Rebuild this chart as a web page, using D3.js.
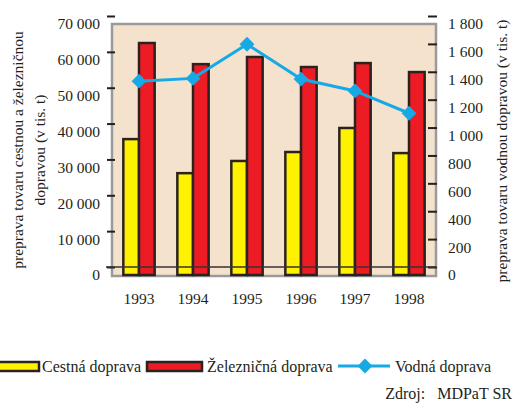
<!DOCTYPE html>
<html>
<head>
<meta charset="utf-8">
<script src="https://cdn.jsdelivr.net/npm/d3@7"></script>
<style>
  body { margin: 0; background: #fff; }
  text { font-family: "Times New Roman", "Liberation Serif", serif; fill: #231f20; }
</style>
</head>
<body>
<div id="chart"></div>
<script>
const years = ["1993", "1994", "1995", "1996", "1997", "1998"];
const roadValues = [37900, 28400, 31800, 34300, 41000, 34000];   // Cestná doprava
const railValues = [64700, 58800, 60800, 58000, 59100, 56600];   // Železničná doprava
const waterValues = [1390, 1410, 1655, 1405, 1320, 1160];        // Vodná doprava
const leftTicks = [0, 10000, 20000, 30000, 40000, 50000, 60000, 70000];
const rightTicks = [0, 200, 400, 600, 800, 1000, 1200, 1400, 1600, 1800];

const W = 527, H = 403;
const plot = { left: 112, right: 436, top: 24, bottom: 276 };
const serif = '"Times New Roman", "Liberation Serif", serif';

const svg = d3.select("#chart").append("svg")
  .attr("width", W)
  .attr("height", H);

const x = d3.scaleBand()
  .domain(years)
  .range([plot.left, plot.right])
  .paddingInner(0.42)
  .paddingOuter(0.21);

const sub = d3.scaleBand()
  .domain(["road", "rail"])
  .range([0, x.bandwidth()]);

const yL = d3.scaleLinear().domain([0, 70000]).range([275, 24]);
const yR = d3.scaleLinear().domain([0, 1800]).range([275, 24]);

const fmt = v => d3.format(",")(v).replace(/,/g, " ");

// plot background
svg.append("rect")
  .attr("x", plot.left)
  .attr("y", plot.top)
  .attr("width", plot.right - plot.left)
  .attr("height", plot.bottom - plot.top)
  .attr("fill", "#f4e2cc")
  .attr("stroke", "#9a9a9a")
  .attr("stroke-width", 2.5);

// left axis
const leftAxis = svg.append("g")
  .attr("transform", `translate(${plot.left},0)`)
  .call(d3.axisLeft(yL).tickValues(leftTicks).tickFormat(fmt).tickSize(0).tickPadding(12));
leftAxis.attr("font-family", serif).attr("font-size", 15.5);
leftAxis.select(".domain").remove();
leftAxis.selectAll("text").attr("fill", "#231f20");
leftAxis.selectAll(".tick").append("line")
  .attr("x1", -5).attr("x2", 3)
  .attr("y1", -8).attr("y2", -8)
  .attr("stroke", "#231f20")
  .attr("stroke-width", 2);

// right axis
const rightAxis = svg.append("g")
  .attr("transform", `translate(${plot.right},0)`)
  .call(d3.axisRight(yR).tickValues(rightTicks).tickFormat(fmt).tickSize(0).tickPadding(12));
rightAxis.attr("font-family", serif).attr("font-size", 15.5);
rightAxis.select(".domain").remove();
rightAxis.selectAll("text").attr("fill", "#231f20");
rightAxis.selectAll(".tick").append("line")
  .attr("x1", -8).attr("x2", 1)
  .attr("y1", -8).attr("y2", -8)
  .attr("stroke", "#231f20")
  .attr("stroke-width", 2);

// bars
const groups = svg.append("g").selectAll("g")
  .data(years)
  .join("g")
  .attr("transform", d => `translate(${x(d)},0)`);

groups.append("rect")
  .attr("x", sub("road"))
  .attr("y", (d, i) => yL(roadValues[i]))
  .attr("width", sub.bandwidth())
  .attr("height", (d, i) => yL(0) - yL(roadValues[i]))
  .attr("fill", "#fff200")
  .attr("stroke", "#2b2220")
  .attr("stroke-width", 2.5);

groups.append("rect")
  .attr("x", sub("rail"))
  .attr("y", (d, i) => yL(railValues[i]))
  .attr("width", sub.bandwidth())
  .attr("height", (d, i) => yL(0) - yL(railValues[i]))
  .attr("fill", "#ed1c24")
  .attr("stroke", "#2b2220")
  .attr("stroke-width", 2.5);

// baseline line
svg.append("line")
  .attr("x1", plot.left - 6)
  .attr("x2", plot.right)
  .attr("y1", yL(0) - 8)
  .attr("y2", yL(0) - 8)
  .attr("stroke", "#3a3030")
  .attr("stroke-width", 1.5);

// water line
const cx = d => x(d) + x.bandwidth() / 2;
const line = d3.line()
  .x((d, i) => cx(years[i]))
  .y(d => yR(d));

svg.append("path")
  .datum(waterValues)
  .attr("d", line)
  .attr("fill", "none")
  .attr("stroke", "#17a9e6")
  .attr("stroke-width", 3);

const diamond = d3.symbol().type(d3.symbolDiamond2).size(140);
svg.append("g").selectAll("path")
  .data(waterValues)
  .join("path")
  .attr("d", diamond)
  .attr("transform", (d, i) => `translate(${cx(years[i])},${yR(d)})`)
  .attr("fill", "#17a9e6");

// x labels
svg.append("g").selectAll("text")
  .data(years)
  .join("text")
  .attr("x", d => x(d) + x.bandwidth() / 2)
  .attr("y", 304)
  .attr("text-anchor", "middle")
  .style("font-size", "15.5px")
  .text(d => d);

// axis titles
svg.append("text")
  .attr("transform", "translate(23,150) rotate(-90)")
  .attr("text-anchor", "middle")
  .style("font-size", "15.5px")
  .text("preprava tovaru cestnou a železničnou");
svg.append("text")
  .attr("transform", "translate(45,150) rotate(-90)")
  .attr("text-anchor", "middle")
  .style("font-size", "15.5px")
  .text("dopravou (v tis. t)");
svg.append("text")
  .attr("transform", "translate(507,151) rotate(-90)")
  .attr("text-anchor", "middle")
  .style("font-size", "15.5px")
  .text("preprava tovaru vodnou dopravou (v tis. t)");

// legend
const legend = svg.append("g");
legend.append("rect")
  .attr("x", -3).attr("y", 362).attr("width", 42).attr("height", 9)
  .attr("fill", "#fff200").attr("stroke", "#2b2220").attr("stroke-width", 2.5);
legend.append("text")
  .attr("x", 42).attr("y", 372)
  .style("font-size", "16px")
  .text("Cestná doprava");
legend.append("rect")
  .attr("x", 147).attr("y", 362).attr("width", 55).attr("height", 9)
  .attr("fill", "#ed1c24").attr("stroke", "#2b2220").attr("stroke-width", 2.5);
legend.append("text")
  .attr("x", 207).attr("y", 372)
  .style("font-size", "16px")
  .text("Železničná doprava");
legend.append("line")
  .attr("x1", 338).attr("x2", 390).attr("y1", 366).attr("y2", 366)
  .attr("stroke", "#17a9e6").attr("stroke-width", 3);
legend.append("path")
  .attr("d", diamond)
  .attr("transform", "translate(365,366)")
  .attr("fill", "#17a9e6");
legend.append("text")
  .attr("x", 395).attr("y", 372)
  .style("font-size", "16px")
  .text("Vodná doprava");

svg.append("text")
  .attr("x", 512).attr("y", 399)
  .attr("text-anchor", "end")
  .style("font-size", "16px")
  .attr("xml:space", "preserve")
  .text("Zdroj:   MDPaT SR");
</script>
</body>
</html>
